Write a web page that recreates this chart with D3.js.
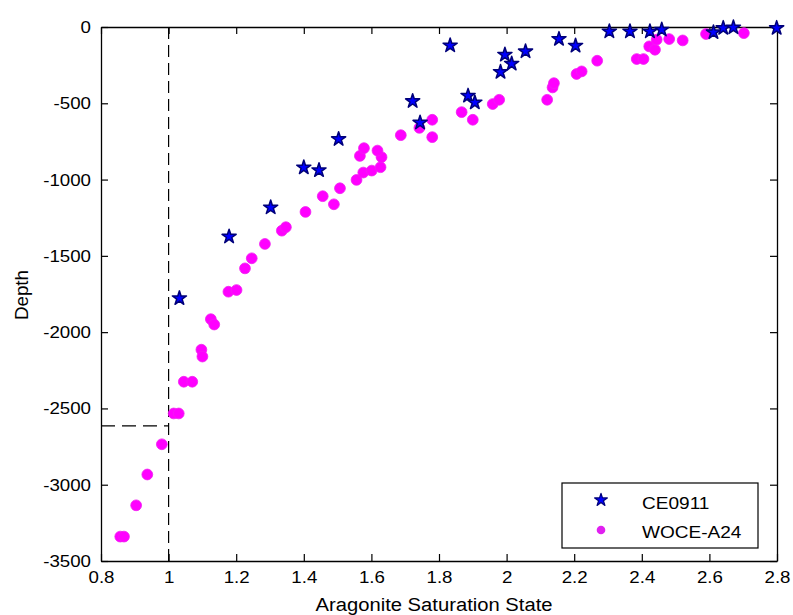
<!DOCTYPE html>
<html>
<head>
<meta charset="utf-8">
<script src="https://cdn.jsdelivr.net/npm/d3@7"></script>
<style>
  html, body { margin: 0; padding: 0; background: #fff; }
  text { font-family: "Liberation Sans", Arial, sans-serif; fill: #000; }
</style>
</head>
<body>
<svg id="chart" width="793" height="615"></svg>
<script>
// ---- data ----
const xTicks = [0.8, 1, 1.2, 1.4, 1.6, 1.8, 2, 2.2, 2.4, 2.6, 2.8];
const yTicks = [0, -500, -1000, -1500, -2000, -2500, -3000, -3500];

const ceOmega = [1.032, 1.179, 1.302, 1.400, 1.445, 1.503, 1.722, 1.744, 1.833, 1.886, 1.906, 1.982, 1.995,
                 2.015, 2.056, 2.155, 2.204, 2.304, 2.365, 2.424, 2.459, 2.612, 2.641, 2.671, 2.799];
const ceDepth = [-1778, -1374, -1183, -921, -939, -735, -486, -627, -121, -451, -495, -295, -182,
                 -241, -160, -79, -123, -29, -29, -29, -18, -35, -7, -3, -7];

const woOmega = [0.857, 0.868, 0.904, 0.937, 0.980, 1.015, 1.030, 1.045, 1.070, 1.097, 1.100, 1.125, 1.135,
                 1.177, 1.201, 1.226, 1.246, 1.285, 1.335, 1.347, 1.405, 1.456, 1.489, 1.507, 1.556,
                 1.576, 1.601, 1.627, 1.630, 1.618, 1.566, 1.578, 1.687, 1.742, 1.780, 1.780, 1.867,
                 1.900, 1.959, 1.978, 2.120, 2.136, 2.140, 2.207, 2.222, 2.268, 2.385, 2.405, 2.422,
                 2.439, 2.444, 2.481, 2.521, 2.590, 2.702];
const woDepth = [-3340, -3340, -3135, -2933, -2735, -2533, -2533, -2325, -2325, -2115, -2160, -1915, -1950,
                 -1735, -1724, -1582, -1516, -1422, -1335, -1312, -1212, -1109, -1162, -1057, -1002,
                 -954, -941, -919, -853, -810, -845, -794, -709, -661, -608, -722, -558,
                 -608, -505, -477, -477, -396, -368, -308, -291, -221, -210, -210, -127,
                 -149, -83, -79, -88, -46, -40];

const refOmega = 1.0;
const refDepth = -2615;

const seriesNames = ["CE0911", "WOCE-A24"];
const xLabel = "Aragonite Saturation State";
const yLabel = "Depth";

// ---- layout ----
const svg = d3.select("#chart");
const L = 101, R = 777, T = 27, B = 561;
const x = d3.scaleLinear().domain([0.8, 2.8]).range([L, R]);
const y = d3.scaleLinear().domain([-3500, 0]).range([B, T]);

svg.append("rect").attr("width", 793).attr("height", 615).attr("fill", "#fff");

function stretch(sel, k) {
  sel.each(function () {
    const w = this.getComputedTextLength();
    d3.select(this).attr("textLength", w * k).attr("lengthAdjust", "spacingAndGlyphs");
  });
}

// dashed reference lines
svg.append("line")
  .attr("x1", x(refOmega)).attr("x2", x(refOmega))
  .attr("y1", y(0)).attr("y2", y(-3500))
  .attr("stroke", "#000").attr("stroke-width", 1.2).attr("stroke-dasharray", "12,6");
svg.append("line")
  .attr("x1", x(0.8)).attr("x2", x(refOmega))
  .attr("y1", y(refDepth)).attr("y2", y(refDepth))
  .attr("stroke", "#000").attr("stroke-width", 1.2).attr("stroke-dasharray", "14,7");

// axes (box with inward ticks)
const plain = d => String(+(+d).toFixed(1)).replace("\u2212", "-");
const gx = svg.append("g").attr("transform", `translate(0,${B})`)
  .call(d3.axisBottom(x).tickValues(xTicks).tickSizeInner(-7).tickSizeOuter(0).tickPadding(10)
        .tickFormat(plain));
const gy = svg.append("g").attr("transform", `translate(${L},0)`)
  .call(d3.axisLeft(y).tickValues(yTicks).tickSizeInner(-7).tickSizeOuter(0).tickPadding(10)
        .tickFormat(plain));
const gt = svg.append("g").attr("transform", `translate(0,${T})`)
  .call(d3.axisTop(x).tickValues(xTicks).tickSizeInner(-7).tickSizeOuter(0).tickFormat(""));
const gr = svg.append("g").attr("transform", `translate(${R},0)`)
  .call(d3.axisRight(y).tickValues(yTicks).tickSizeInner(-7).tickSizeOuter(0).tickFormat(""));

[gx, gy, gt, gr].forEach(g => {
  g.selectAll("path.domain").attr("stroke", "#000").attr("stroke-width", 1.3);
  g.selectAll(".tick line").attr("stroke", "#000").attr("stroke-width", 1.2);
  g.selectAll(".tick text").attr("font-size", 17).attr("fill", "#000")
    .attr("font-family", "'Liberation Sans', Arial, sans-serif");
});
stretch(gx.selectAll(".tick text"), 1.1);
stretch(gy.selectAll(".tick text"), 1.1);

// WOCE-A24 dots
const woData = woOmega.map((v, i) => ({ x: v, y: woDepth[i] }));
svg.append("g").selectAll("circle").data(woData).join("circle")
  .attr("cx", d => x(d.x)).attr("cy", d => y(d.y)).attr("r", 5.4)
  .attr("fill", "#ff00ff").attr("stroke", "#f020f0").attr("stroke-width", 0.8);

// CE0911 stars
const star = d3.symbol().type(d3.symbolStar).size(62);
const ceData = ceOmega.map((v, i) => ({ x: v, y: ceDepth[i] }));
svg.append("g").selectAll("path").data(ceData).join("path")
  .attr("d", star)
  .attr("transform", d => `translate(${x(d.x)},${y(d.y)})`)
  .attr("fill", "#0000ff").attr("stroke", "#00007a").attr("stroke-width", 1.5)
  .attr("stroke-linejoin", "round");

// axis labels
const xl = svg.append("text").attr("x", 434).attr("y", 611).attr("text-anchor", "middle")
  .attr("font-size", 18).text(xLabel);
xl.attr("textLength", 237).attr("lengthAdjust", "spacingAndGlyphs");
const yl = svg.append("text").attr("transform", "translate(28,295) rotate(-90)")
  .attr("text-anchor", "middle").attr("font-size", 18).text(yLabel);
yl.attr("textLength", 50).attr("lengthAdjust", "spacingAndGlyphs");

// legend
const lg = svg.append("g");
lg.append("rect").attr("x", 562).attr("y", 483).attr("width", 196).attr("height", 65)
  .attr("fill", "#fff").attr("stroke", "#000").attr("stroke-width", 1.2);
lg.append("path").attr("d", d3.symbol().type(d3.symbolStar).size(50)())
  .attr("transform", "translate(601,500)")
  .attr("fill", "#0000ff").attr("stroke", "#00007a").attr("stroke-width", 1.2)
  .attr("stroke-linejoin", "round");
lg.append("circle").attr("cx", 601).attr("cy", 530).attr("r", 4.3).attr("fill", "#e020f0");
const lt = lg.selectAll("text.leg").data(seriesNames).join("text").attr("class", "leg")
  .attr("x", 642).attr("y", (d, i) => 509 + i * 29).attr("font-size", 17).text(d => d);
stretch(lt, 1.12);
</script>
</body>
</html>
